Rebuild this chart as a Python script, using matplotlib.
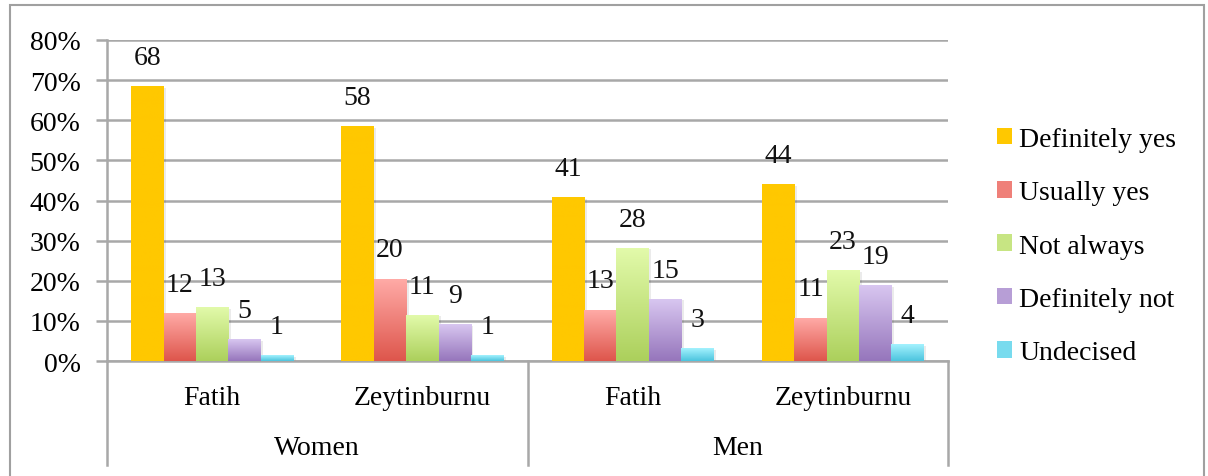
import matplotlib.pyplot as plt
import numpy as np
from matplotlib.patches import Patch, Rectangle
from matplotlib.colors import to_rgb

plt.rcParams['font.family'] = ['Liberation Serif', 'DejaVu Serif']

groups = ['Women', 'Men']
places = ['Fatih', 'Zeytinburnu', 'Fatih', 'Zeytinburnu']
answers = ['Definitely yes', 'Usually yes', 'Not always', 'Definitely not', 'Undecised']

# values in percent, one list per answer (Women Fatih, Women Zeytinburnu, Men Fatih, Men Zeytinburnu)
definitely_yes = [68.3, 58.4, 40.7, 44.0]
usually_yes = [11.9, 20.4, 12.7, 10.7]
not_always = [13.3, 11.4, 28.1, 22.6]
definitely_not = [5.4, 9.0, 15.4, 18.7]
undecised = [1.3, 1.3, 3.0, 4.0]
series = [definitely_yes, usually_yes, not_always, definitely_not, undecised]

# gradient colours (top, bottom)
grads = [('#ffc800', '#ffc800'),
         ('#ffaaa6', '#de564c'),
         ('#e2faaa', '#acd05c'),
         ('#d8c6f0', '#9676bc'),
         ('#a4f2fe', '#4cc4de')]

FS = 20

fig = plt.figure(figsize=(12.08, 4.77), dpi=100)
ax = fig.add_axes([107/1208, 1-362/477, (948-107)/1208, (362-41)/477])

# outer frame
fig.add_artist(Rectangle((10/1208, -0.05), (1204-10)/1208, 1.05-6/477,
                         transform=fig.transFigure, fill=False,
                         edgecolor='#a0a0a0', linewidth=1.5))

w = 0.154
x = np.arange(len(places))
for i, vals in enumerate(series):
    top, bot = np.array(to_rgb(grads[i][0])), np.array(to_rgb(grads[i][1]))
    t = np.linspace(0, 1, 64)[:, None]
    img = (top * (1 - t) + bot * t)[:, None, :]
    for j, v in enumerate(vals):
        x0 = x[j] + (i - 2) * w - w / 2
        # soft shadow
        ax.add_patch(Rectangle((x0 + 0.012, 0), w, v - 0.3, facecolor='#000000',
                               alpha=0.08, edgecolor='none', zorder=2))
        ax.imshow(img, extent=[x0, x0 + w, 0, v], aspect='auto', zorder=3,
                  interpolation='bilinear')
        ax.annotate(f'{v:.0f}', (x0 + w / 2, v), xytext=(0, 21), textcoords='offset points',
                    ha='center', va='center', fontsize=FS, color='#111111', zorder=4)

ax.set_xlim(-0.5, 3.5)
ax.set_ylim(0, 80)
ax.set_yticks(np.arange(0, 81, 10))
ax.set_yticklabels([f'{v}%' for v in range(0, 81, 10)], fontsize=FS)
ax.yaxis.grid(True, color='#a8a8a8', linewidth=1.8)
ax.set_axisbelow(True)
ax.tick_params(axis='y', length=8, width=1.8, color='#a8a8a8', pad=11)
ax.tick_params(axis='x', length=0)
ax.set_xticks([])
for s in ['top', 'right']:
    ax.spines[s].set_visible(False)
ax.spines['left'].set_color('#a8a8a8')
ax.spines['left'].set_linewidth(1.8)
ax.spines['bottom'].set_color('#a8a8a8')
ax.spines['bottom'].set_linewidth(1.8)

# two-level category axis
trans = ax.get_xaxis_transform()
for xv in [-0.5, 1.5, 3.5]:
    ax.plot([xv, xv], [0, -0.324], transform=trans, color='#a8a8a8',
            linewidth=1.8, clip_on=False)
for j, p in enumerate(places):
    ax.text(x[j], -0.115, p, transform=trans, ha='center', va='center', fontsize=FS)
for k, g in enumerate(groups):
    ax.text(0.5 + 2 * k, -0.27, g, transform=trans, ha='center', va='center', fontsize=FS)

handles = [Patch(facecolor=tuple((np.array(to_rgb(a)) + np.array(to_rgb(b))) / 2),
                 edgecolor='none') for a, b in grads]
fig.legend(handles, answers, loc='center left', bbox_to_anchor=(997/1208, 1-247/477),
           frameon=False, fontsize=FS, handlelength=0.55, handleheight=0.55,
           handletextpad=0.25, labelspacing=1.02, borderpad=0, borderaxespad=0)

fig.savefig('out.png', dpi=100)
